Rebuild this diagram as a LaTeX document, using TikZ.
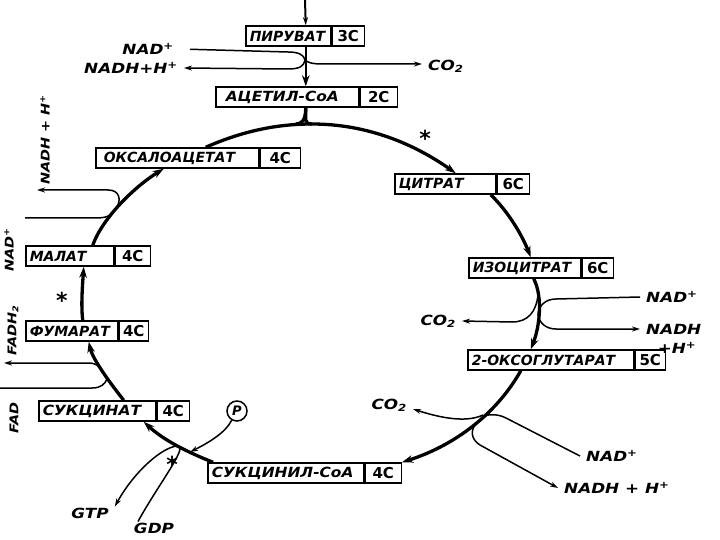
\documentclass[tikz,border=0pt]{standalone}
\usepackage{fontspec}
\setmainfont{DejaVu Sans}
\newfontfamily\hand{DejaVu Sans}[ItalicFont={DejaVu Sans Oblique}, BoldFont={DejaVu Sans Bold}, BoldItalicFont={DejaVu Sans Bold Oblique}]
\newfontfamily\handw{DejaVu Sans}[FakeStretch=1.1, ItalicFont={DejaVu Sans Oblique}, BoldFont={DejaVu Sans Bold}, BoldItalicFont={DejaVu Sans Bold Oblique}]
\newfontfamily\handl{DejaVu Sans}[FakeStretch=1.2, ItalicFont={DejaVu Sans Oblique}, BoldFont={DejaVu Sans Bold}, BoldItalicFont={DejaVu Sans Bold Oblique}]
\newcommand\nm[2]{\makebox[#1][l]{#2}}
\usetikzlibrary{arrows.meta}
\begin{document}
\begin{tikzpicture}[x=1pt,y=-1pt,
  namebox/.style={draw, line width=1.5pt, minimum height=20pt, inner xsep=4pt, inner ysep=0pt,
    anchor=west, font=\hand\bfseries\itshape\fontsize{14}{15}\selectfont},
  wide/.style={font=\handw\bfseries\itshape\fontsize{14}{15}\selectfont},
  numbox/.style={draw, line width=1.5pt, minimum height=20pt, minimum width=#1, inner sep=0pt,
    anchor=west, font=\hand\bfseries\fontsize{15}{15}\selectfont},
  cyc/.style={line width=3.3pt, -{Stealth[length=11pt,width=7.5pt]}},
  cycn/.style={line width=3.3pt},
  side/.style={line width=1.5pt, -{Stealth[length=8pt,width=5pt]}},
  siden/.style={line width=1.5pt},
  lab/.style={font=\handl\bfseries\itshape\fontsize{14}{16}\selectfont, inner xsep=6pt, inner ysep=1pt},
  rlab/.style={font=\handl\bfseries\itshape\fontsize{12}{14}\selectfont, inner sep=1pt, rotate=90},
  starmark/.style={font=\bfseries\fontsize{22}{22}\selectfont, inner sep=0pt},
  pcirc/.style={draw, circle, line width=1.5pt, inner sep=0pt, minimum size=20pt,
    font=\hand\bfseries\itshape\fontsize{13}{13}\selectfont}
]
\useasboundingbox[fill=white] (0,0) rectangle (720,540);

% compound boxes
\node[namebox] (pyr) at (245,36) {\nm{77pt}{ПИРУВАТ}};
\node[numbox=32pt] (pyrn) at (pyr.east) {3C};
\node[namebox, wide] (acc) at (215,97) {\nm{135pt}{\hspace{6pt}АЦЕТИЛ-СоА}};
\node[numbox=37pt] (accn) at (acc.east) {2C};
\node[namebox] (oxa) at (95,158) {\nm{155pt}{\hspace{4pt}ОКСАЛОАЦЕТАТ}};
\node[numbox=40pt] (oxan) at (oxa.east) {4C};
\node[namebox] (cit) at (394,184) {\nm{93pt}{ЦИТРАТ}};
\node[numbox=32pt] (citn) at (cit.east) {6C};
\node[namebox] (iso) at (468,268) {\nm{104pt}{ИЗОЦИТРАТ}};
\node[numbox=31pt] (ison) at (iso.east) {6C};
\node[namebox] (oxg) at (467,360) {\nm{158pt}{2-ОКСОГЛУТАРАТ}};
\node[numbox=30pt] (oxgn) at (oxg.east) {5C};
\node[namebox, wide] (sca) at (207,473) {\nm{148pt}{СУКЦИНИЛ-СоА}};
\node[numbox=36pt] (scan) at (sca.east) {4C};
\node[namebox, wide] (suc) at (38,411) {\nm{109pt}{СУКЦИНАТ}};
\node[numbox=32pt] (sucn) at (suc.east) {4C};
\node[namebox] (fum) at (25,331) {\nm{84pt}{ФУМАРАТ}};
\node[numbox=29pt] (fumn) at (fum.east) {4C};
\node[namebox] (mal) at (25,256) {\nm{80pt}{МАЛАТ}};
\node[numbox=35pt] (maln) at (mal.east) {4C};

% pyruvate -> acetyl-CoA
\coordinate (pyrin) at (305,0);
\draw[side, line width=2pt] (pyrin) -- ([xshift=17.5pt]pyr.north);
\draw[cyc, line width=2.4pt] ([xshift=17.5pt]pyr.south) -- ([xshift=18.5pt]acc.north);
\coordinate (j1) at (305,60);
\node[lab, anchor=east] (nad1) at (180,49) {NAD\textsuperscript{+}};
\draw[siden, shorten <=10pt] (nad1.east) -- (288,52) .. controls (299,52) and (304,55) .. (j1);
\node[lab, anchor=east] (nadh1) at (184,68) {NADH+H\textsuperscript{+}};
\draw[side] (j1) .. controls (304,66) and (300,69) .. (288,69) -- (nadh1.east);
\node[lab, anchor=west] (co2a) at (422,66) {CO\textsubscript{2}};
\draw[side] (j1) .. controls (307,62) and (311,64) .. (322,64) -- ([yshift=2pt]co2a.west);

% cycle
\coordinate (top) at (312,124);
\draw[cycn] ([xshift=18.5pt]acc.south) .. controls +(0,12) and +(-8,0) .. (top);
\draw[cycn] ([xshift=18.5pt]acc.south) .. controls +(0,12) and +(6,0) .. ([xshift=-16pt]top);
\draw[cyc] ([xshift=28.5pt]oxa.north) .. controls +(33.6,-14.7) and +(-38.6,0) .. (top)
  .. controls +(55.6,0) and +(-41,-29) .. ([xshift=10.5pt]cit.north);
\draw[cyc] ([xshift=45.5pt]cit.south) .. controls +(18,17.4) and +(-8.4,-21.4) .. ([xshift=6pt]iso.north);
\draw[cyc] ([xshift=9pt]iso.south) .. controls +(10,20) and +(8,-20) .. ([xshift=-20pt]oxg.north);
\draw[cyc] ([xshift=-30pt]oxg.south) .. controls +(-23.4,41.7) and +(54.2,-17.2) .. (scan.north east);
\draw[cyc] ([xshift=6pt]sca.north west) .. controls +(-26.9,-10.6) and +(19.4,18) .. ([xshift=46.5pt]suc.south);
\draw[cyc] ([xshift=26.5pt]suc.north) .. controls +(-12,-15) and +(4,18) .. ([xshift=17pt]fum.south);
\draw[cyc] ([xshift=11pt]fum.north) .. controls +(-2,-15) and +(-1,15) .. ([xshift=14pt]mal.south);
\draw[cyc] ([xshift=23pt]mal.north) .. controls +(10,-28) and +(-28,17) .. ([xshift=-13.5pt]oxa.south);

% stars
\node[starmark] (s1) at (425,138) {*};
\node[starmark] (s2) at (62,300) {*};
\node[starmark] (s3) at (172,464) {*};

% isocitrate -> 2-oxoglutarate
\coordinate (j2a) at (538,295);
\coordinate (j2b) at (538,314);
\node[lab, anchor=east] (co2b) at (462,321) {CO\textsubscript{2}};
\draw[side] (j2a) .. controls (536,312) and (528,322) .. (512,322) -- (co2b.east);
\node[lab, anchor=west] (nad2) at (640,297) {NAD\textsuperscript{+}};
\draw[siden] (nad2.west) -- (556,299) .. controls (545,299) and (539,306) .. (j2b);
\node[lab, anchor=west] (nadh2) at (640,329) {NADH};
\node[lab] (h2) at (677,348) {+H\textsuperscript{+}};
\draw[side] (j2b) .. controls (539,323) and (546,329) .. (556,329) -- (nadh2.west);

% 2-oxoglutarate -> succinyl-CoA
\coordinate (j3a) at (483,415);
\coordinate (j3b) at (484,416);
\coordinate (j3c) at (475,425);
\node[lab, anchor=east] (co2c) at (413,405) {CO\textsubscript{2}};
\draw[side] (j3a) .. controls (470,421) and (450,421) .. ([yshift=-4pt]co2c.east);
\node[lab, anchor=west] (nad3) at (580,456) {NAD\textsuperscript{+}};
\draw[siden] (nad3.west) -- (506,418) .. controls (498,414) and (490,414) .. (j3b);
\node[lab, anchor=west] (nadh3) at (558,488) {NADH + H\textsuperscript{+}};
\draw[side] (j3c) .. controls (470,432) and (472,440) .. (480,445) -- (nadh3.west);

% succinyl-CoA -> succinate
\node[pcirc] (pc) at (237,411) {P};
\coordinate (j4a) at (190,452);
\draw[side] (pc.240) .. controls (226,432) and (210,442) .. (j4a);
\coordinate (j4b) at (178,446);
\node[lab] (gtp) at (90,513) {GTP};
\node[lab] (gdp) at (154,528) {GDP};
\draw[side] ([xshift=-16pt]gdp.north) .. controls (158,485) and (188,447) .. (j4b)
  .. controls (164,446) and (135,470) .. (gtp.north east);

% succinate -> fumarate
\coordinate (j6a) at (107,379);
\coordinate (j6b) at (103,372);
\coordinate (fadin) at (0,388);
\coordinate (fadhout) at (4,363);
\draw[siden] (fadin) -- (92,388) .. controls (101,388) and (105,384) .. (j6a);
\draw[side] (j6b) .. controls (100,366) and (96,363) .. (88,363) -- (fadhout);
\node[rlab] (fadh) at (13,330) {FADH\textsubscript{2}};
\node[rlab] (fad) at (14,418) {FAD};

% malate -> oxaloacetate
\coordinate (j5a) at (110,215);
\coordinate (j5b) at (117,207);
\coordinate (nadin5) at (25,218);
\coordinate (nadhout5) at (37,190);
\draw[siden] (nadin5) -- (95,218) .. controls (103,218) and (107,217) .. (j5a);
\draw[side] (j5b) .. controls (121,200) and (120,190) .. (108,190) -- (nadhout5);
\node[rlab] (nadhl5) at (45,140) {NADH + H\textsuperscript{+}};
\node[rlab] (nadl5) at (9,250) {NAD\textsuperscript{+}};
\end{tikzpicture}
\end{document}
